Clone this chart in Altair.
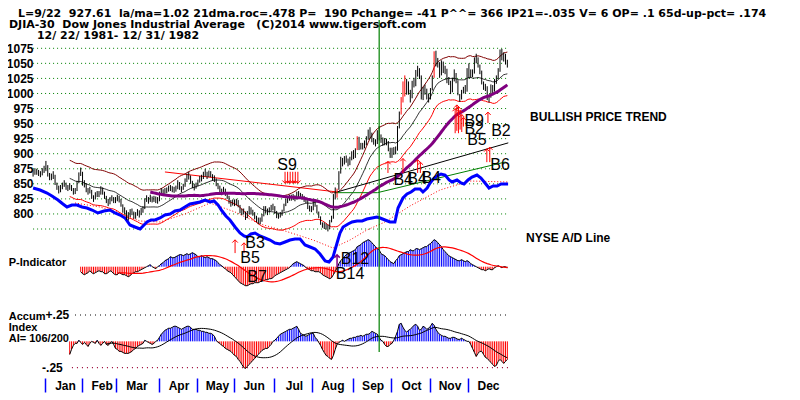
import json
import altair as alt
import numpy as np
import pandas as pd

FONT = "Liberation Sans"
HFONT = "DejaVu Sans"

# ---------------- DJIA daily bars, trading-day index 0 = 12/22/1981 ----------------
closes = [
    868.7, 871.3, 870.3, 868.3, 866.2, 872.0, 875.0,
    882.5, 865.3, 861.0, 861.8, 866.7, 850.5, 845.0, 838.9, 842.7, 847.6, 850.7, 844.8, 843.1, 846.4, 842.2, 837.6, 838.8, 852.7, 866.8, 871.1,
    851.0, 850.8, 839.8, 837.2, 840.2, 827.8, 826.1, 832.1, 833.2, 833.8, 842.9, 836.3, 828.1, 822.9, 818.5, 824.3, 826.9, 821.9, 824.4,
    827.4, 824.4, 816.0, 806.9, 805.7, 795.5, 798.0, 804.4, 803.9, 797.2, 798.7, 804.0, 799.0, 806.0, 809.0, 823.1, 826.9, 821.5, 828.4, 823.1, 826.0, 823.7, 822.8,
    833.2, 838.6, 835.5, 839.0, 839.6, 842.9, 843.0, 841.1, 840.0, 842.9, 852.0, 845.0, 840.9, 846.5, 855.0, 862.2, 863.1, 853.0, 848.7, 843.9, 848.4,
    853.2, 859.1, 859.5, 866.5, 869.2, 863.3, 868.9, 866.3, 858.9, 859.6, 849.6, 846.3, 838.2, 836.9, 840.6, 834.6, 829.0, 821.1, 816.7, 819.5,
    818.4, 820.7, 815.9, 805.6, 803.3, 804.5, 795.0, 801.0, 809.9, 803.3, 801.9, 796.1, 791.5, 788.6, 789.4, 796.7, 809.5, 805.8, 803.1, 808.1, 810.8, 811.9,
    804.0, 796.9, 797.2, 799.0, 803.8, 814.2, 821.6, 824.0, 828.1, 827.1, 828.7, 825.5, 833.4, 832.9, 829.7, 828.8, 825.3, 822.4, 811.3, 809.0, 808.6,
    822.0, 815.4, 803.6, 795.6, 784.3, 780.4, 779.9, 777.8, 776.9, 788.1, 792.4, 831.2, 829.4, 838.4, 869.3, 891.2, 884.9, 892.4, 892.1, 883.5, 892.0, 901.3,
    895.1, 906.8, 925.1, 910.3, 914.8, 912.3, 918.0, 925.3, 930.5, 932.9, 922.4, 920.2, 917.5, 934.8, 927.6, 924.1, 919.3, 920.9, 919.2, 907.1, 896.3,
    907.7, 903.6, 907.4, 944.3, 966.0, 986.9, 1012.8, 1003.7, 1018.4, 1004.5, 993.2, 1019.2, 1017.0, 1034.1, 1036.9, 1031.6, 995.1, 1006.1, 1005.9, 996.2, 991.7,
    1006.1, 1027.2, 1065.5, 1051.3, 1051.8, 1031.3, 1051.9, 1037.0, 1039.9, 1021.4, 1020.9, 1004.5, 1023.7, 1032.3, 1021.4, 1000.0, 991.0, 1002.4, 1007.4, 1005.2, 1039.3,
    1031.1, 1033.2, 1035.5, 1056.9, 1057.3, 1046.9, 1036.8, 1018.8, 1011.5, 1010.3, 992.6, 993.0, 1011.2, 1004.5, 1020.4, 1025.6, 1038.4, 1070.6, 1058.9, 1061.9, 1054.1, 1046.5,
]
highs = [
    874, 876, 875, 873, 871, 876, 880,
    888, 881, 868, 867, 871, 865, 852, 847, 848, 852, 856, 852, 848, 851, 848, 843, 843, 855, 869, 877,
    870, 856, 851, 843, 845, 840, 831, 836, 838, 838, 846, 844, 837, 830, 825, 828, 831, 828, 828,
    832, 830, 825, 816, 811, 806, 803, 808, 809, 804, 803, 808, 806, 810, 813, 826, 831, 828, 832, 829, 830, 829, 828,
    837, 843, 841, 843, 844, 847, 848, 846, 845, 847, 856, 853, 846, 850, 859, 867, 870, 864, 855, 850, 852,
    857, 863, 865, 870, 875, 870, 872, 871, 866, 864, 859, 851, 847, 842, 845, 842, 836, 830, 823, 824,
    824, 825, 823, 815, 809, 809, 804, 805, 813, 811, 807, 803, 797, 794, 794, 800, 813, 813, 809, 811, 815, 817,
    813, 805, 801, 803, 807, 817, 825, 828, 832, 832, 833, 831, 837, 838, 835, 833, 830, 827, 823, 814, 813,
    825, 823, 815, 804, 796, 786, 786, 784, 782, 790, 797, 833, 844, 842, 871, 895, 893, 896, 897, 892, 895, 904,
    906, 909, 929, 928, 918, 918, 922, 929, 940, 944, 935, 926, 924, 939, 946, 932, 927, 926, 925, 921, 910,
    910, 911, 912, 946, 970, 994, 1020, 1030, 1024, 1020, 1006, 1021, 1026, 1039, 1046, 1042, 1030, 1011, 1015, 1008, 1000,
    1009, 1030, 1070, 1071, 1059, 1052, 1055, 1053, 1046, 1041, 1027, 1021, 1026, 1040, 1034, 1022, 999, 1006, 1011, 1014, 1042,
    1050, 1040, 1040, 1060, 1066, 1060, 1048, 1038, 1020, 1016, 1012, 998, 1015, 1014, 1024, 1030, 1042, 1073, 1074, 1068, 1066, 1056,
]
lows = [
    862, 865, 865, 863, 861, 864, 868,
    871, 862, 856, 856, 858, 848, 840, 834, 836, 841, 845, 840, 838, 840, 838, 832, 833, 838, 851, 863,
    847, 844, 836, 832, 834, 825, 820, 824, 828, 828, 832, 832, 825, 818, 813, 816, 821, 818, 818,
    821, 819, 812, 802, 799, 790, 789, 795, 798, 792, 792, 797, 794, 798, 802, 808, 820, 817, 820, 819, 820, 818, 817,
    821, 830, 831, 833, 834, 837, 838, 836, 835, 837, 841, 840, 836, 840, 845, 853, 857, 850, 843, 839, 842,
    846, 852, 854, 858, 862, 858, 861, 861, 855, 853, 846, 841, 834, 831, 834, 830, 825, 817, 812, 814,
    813, 814, 811, 801, 798, 799, 790, 793, 799, 799, 797, 791, 786, 783, 783, 787, 796, 801, 798, 802, 805, 806,
    800, 793, 792, 794, 797, 804, 813, 818, 822, 822, 823, 821, 824, 828, 825, 824, 820, 818, 808, 804, 803,
    806, 812, 801, 793, 782, 777, 775, 774, 771, 775, 786, 792, 824, 827, 840, 867, 879, 882, 885, 879, 881, 889,
    891, 893, 906, 906, 907, 907, 909, 914, 923, 925, 919, 915, 912, 916, 922, 918, 913, 914, 914, 904, 893,
    893, 898, 899, 905, 942, 965, 985, 995, 998, 998, 985, 992, 1010, 1012, 1028, 1024, 990, 989, 998, 990, 985,
    990, 1005, 1026, 1045, 1043, 1026, 1030, 1034, 1032, 1017, 1014, 999, 1002, 1020, 1017, 997, 986, 990, 1000, 1000, 1003,
    1025, 1026, 1027, 1033, 1050, 1043, 1032, 1015, 1006, 1004, 989, 985, 993, 1000, 1003, 1016, 1024, 1036, 1055, 1053, 1048, 1043,
]
red_bar_days = [166, 177, 201, 202, 203, 219]

price_grid = [775, 800, 825, 850, 875, 900, 925, 950, 975, 1000, 1025, 1050, 1075]
price_labels = [800, 825, 850, 875, 900, 925, 950, 975, 1000, 1025, 1050, 1075]

month_names = ["Jan", "Feb", "Mar", "Apr", "May", "Jun", "Jul", "Aug", "Sep", "Oct", "Nov", "Dec"]
month_first_day = [7, 27, 46, 69, 90, 110, 132, 153, 175, 196, 217, 238]

# ---------------- NYSE A/D line (relative units) ----------------
ad_days = [0, 3.8, 7.6, 10.3, 13.6, 16.3, 18.5, 21.2, 24, 26.7, 29.4, 32.2, 35.4, 38.7, 42, 44.7, 47.5, 50.2,
           52.9, 55.6, 58.4, 60.6, 62.2, 64.4, 66.6, 69.3, 72, 74.8, 77.5, 80.2, 82.9, 85.7, 88.4, 91.1, 93.9,
           96.6, 98.8, 101, 103.2, 105.3, 107.5, 110.3, 113, 115.2, 116.8, 119, 121.2, 123.9, 126.6, 129.4,
           132.1, 134.8, 137.6, 140.3, 143, 145.8, 148.5, 151.3, 154, 156.7, 159.5, 161.6, 163.8, 166, 167.6,
           169.3, 172, 174.2, 176.9, 179.7, 182.3, 185.1, 187.8, 189.5, 192.2, 194.9, 197.6, 199.3, 202, 204.2,
           206.4, 208.6, 211.3, 212.9, 215.2, 216.8, 219, 220.6, 222.8, 225, 227.2, 228.8, 231.5, 233.7, 235.3,
           237.5, 239.7, 242.4, 244.6, 246.8, 249, 251.2, 253.4, 255.6, 257.7, 259.4]
ad_values = [82, 80, 77, 74, 70, 66, 63, 65, 65, 63, 62, 60, 57, 59, 60, 57, 55, 52,
             45, 43, 41, 45, 48, 50, 50, 52, 55, 56, 59, 60, 63, 66, 67, 68, 70,
             68, 69, 65, 59, 54, 50, 43, 37, 34, 33, 36, 37, 34, 32, 30,
             27, 26, 28, 30, 31, 31, 25, 23, 21, 16, 9, 8, 13, 27, 37,
             43, 46, 48, 49, 49, 51, 52, 53, 52, 50, 48, 48, 62, 72, 76,
             78, 81, 81, 78, 82, 87, 92, 94, 96, 95, 90, 88, 90, 87, 86,
             90, 93, 95, 92, 87, 82, 84, 84, 86, 86, 86]
ad_ma_days = [22.9, 36.5, 47.5, 58.4, 69.3, 82.9, 96.6, 110.3, 123.9, 137.6, 152.9, 163.8, 173.1, 182.3,
              192.2, 205.8, 222.2, 238.6, 259.4]
ad_ma_values = [67, 63, 57, 49, 48, 56, 67, 58, 46, 39, 30, 22, 30, 40, 48, 64, 80, 89, 88]

# ---------------- P-Indicator (relative units), from day 26 ----------------
p_start = 26
p_indicator = [
    -5, -7, -8, -7, -6, -4, -6, -7, -6, -5,
    -4, -5, -5, -7, -7, -6, -4, -5, -7, -8,
    -8, -6, -7, -8, -8, -9, -10, -9, -7, -6,
    -5, -5, -4, -3, -2, -1, 0, 1, 2, 0,
    -1, -2, 0, 1, 3, 4, 6, 7, 8, 10,
    9, 9, 10, 11, 12, 12, 11, 12, 13, 12,
    13, 14, 13, 12, 10, 10, 11, 10, 9, 10,
    9, 8, 8, 7, 6, 4, 2, 1, -1, -2,
    -4, -5, -6, -8, -10, -12, -14, -16, -17, -18,
    -19, -19, -18, -17, -17, -16, -16, -16, -15, -14,
    -14, -13, -13, -12, -12, -11, -9, -8, -7, -6,
    -5, -4, -3, -2, -1, 1, 3, 4, 5, 4,
    3, 2, 1, -1, -2, -3, -4, -4, -5, -5,
    -5, -6, -8, -9, -10, -11, -12, -11, -8, -5,
    -1, 3, 6, 8, 10, 12, 13, 14, 15, 16,
    17, 20, 21, 22, 24, 25, 26, 27, 26, 24,
    22, 20, 18, 17, 13, 12, 11, 9, 7, 5,
    4, 3, 6, 8, 11, 12, 13, 14, 15, 15,
    17, 16, 16, 18, 18, 17, 18, 19, 20, 20,
    22, 23, 25, 27, 26, 24, 22, 20, 17, 15,
    13, 11, 10, 9, 8, 7, 6, 6, 7, 6,
    5, 6, 5, 3, 2, 1, 0, -1, -2, -3,
    -3, -4, -3, -2, -3, -3, -1, 0, 1, 0,
    -1, 0, 0, -1,
]

# ---------------- Accumulation Index (thousandths), from day 20 ----------------
ai_start = 20
accum_index_milli = [
    -124, -76, -38, -19, -19, 10, -10, -29, -10, -29,
    -48, -19, 0, -10, -19, 10, -19, -38, -19, 0,
    -29, -38, -19, 0, -29, -67, -76, -95, -95, -105,
    -114, -114, -114, -105, -95, -76, -67, -48, -38, -29,
    -19, 10, 0, -10, -19, -29, -19, 0, 10, 38,
    67, 86, 105, 114, 124, 124, 133, 143, 143, 133,
    124, 114, 124, 133, 143, 143, 133, 114, 114, 114,
    105, 105, 95, 95, 86, 86, 76, 76, 67, 48,
    10, -10, -19, -38, -48, -67, -76, -86, -95, -114,
    -133, -143, -171, -190, -219, -247, -257, -238, -219, -200,
    -181, -162, -143, -124, -105, -86, -76, -67, -67, -48,
    -29, 0, 10, 29, 48, 67, 76, 86, 95, 105,
    114, 114, 124, 133, 143, 114, 76, 67, 57, 48,
    57, 67, 76, 76, 38, 19, -10, -38, -76, -105,
    -133, -143, -162, -171, -133, -76, -29, -10, 0, 10,
    0, 10, 19, 29, 29, 38, 38, 48, 48, 57,
    48, 57, 67, 67, 76, 95, 86, 76, 67, 38,
    10, 0, -29, -48, -48, -29, -19, 10, 48, 95,
    162, 171, 133, 105, 86, 105, 114, 133, 152, 162,
    143, 105, 114, 143, 133, 114, 124, 143, 171, 152,
    114, 86, 67, 57, 48, 48, 38, 29, 29, 38,
    38, 29, 19, 19, 29, 19, 10, 0, 0, -29,
    -67, -105, -143, -114, -95, -95, -124, -152, -162, -181,
    -200, -219, -238, -228, -190, -171, -190, -209, -190, -171,
]

# ---------------- trend lines ----------------
red_trend_days, red_trend_prices = [72, 166], [869.7, 836.5]
black_trend_days, black_trend_prices = [166, 259.5], [836.5, 918.0]
green_trend_days, green_trend_prices = [165, 188, 258], [835.3, 835.3, 886.3]
last_day_marker = 189  # 9/22
marker_span = [571, 1122]

# ---------------- signals ----------------
up_arrow_days = [110.3, 115.2, 193.8, 202, 210, 211.5, 230.5, 231.4, 232.3, 233.2, 234.1, 235, 248.4, 247.8, 249.4]
up_arrow_base = [735, 735, 868, 868, 868, 868, 934, 938, 934, 940, 936, 945, 951, 886, 886]
up_arrow_tip = [757, 752, 887, 892, 890, 886, 975, 981, 978, 972, 965, 960, 969, 908, 911]
down_arrow_days = [137.6, 139.0, 140.4, 141.8, 143.2, 144.6]
down_arrow_top = [870, 870, 870, 870, 870, 870]
down_arrow_tip = [851, 851, 851, 851, 851, 851]
purple_arrow_days, purple_arrow_base, purple_arrow_tip = [166], [711], [732]

signal_labels = ["S9", "B3", "B5", "B7", "B12", "B14", "B4", "B4", "B4", "B9", "B2", "B5", "B2", "B6"]
signal_days = [138.7, 121.2, 118.5, 122.3, 175.8, 173.1, 202.1, 209.7, 217.4, 240.9, 240.9, 242.4, 255.5, 255.0]
signal_prices = [881.3, 751.8, 726.9, 695.4, 724.8, 700.3, 856.4, 858.0, 859.7, 954.2, 941.0, 922.8, 937.7, 881.3]

NB = "\u00a0"
header_texts = [
    "L=9/22" + NB * 2 + "927.61" + NB * 2 + "la/ma=1.02 21dma.roc=.478 P=" + NB * 2
    + "190 Pchange= -41 P^^= 366 IP21=-.035 V= 6 OP= .1 65d-up-pct= .174",
    "DJIA-30" + NB * 2 + "Dow Jones Industrial Average" + NB * 3 + "(C)2014 www.tigersoft.com",
    "12/ 22/ 1981- 12/ 31/ 1982",
]
header_days = [-8.25, -13.2, 2.1]
header_prices = [1131.9, 1113.6, 1094.6]

side_texts = ["BULLISH PRICE TREND", "NYSE A/D Line"]
side_days = [271.4, 269.2]
side_prices = [961, 760]

left_texts = ["P-Indicator", "Accum", "Index", "AI= 106/200"]
left_days = [-13.3, -13.3, -13.3, -13.3]
left_prices = [718.6, 629.0, 610.7, 592.5]

ai_band_texts = ["+.25", "-.25"]
ai_band_text_days = [6.8, 4.9]
ai_band_levels = [0.25, -0.25]
ai_band_start = [22.9, 21.2]
ai_band_colors = ["#000000", "#990033"]

# ---------------- frames ----------------
n = len(closes)
days = list(range(n))
bars = pd.DataFrame({"day": days, "close": closes, "high": highs, "low": lows})
bars["col"] = np.where(bars["day"].isin(red_bar_days), "#ff0000", "#000000")

cs = pd.Series(closes)
ma21 = cs.rolling(21).mean()
ma_df = pd.DataFrame({"day": days, "ma21": ma21, "upper": ma21 * 1.035, "lower": ma21 * 0.965}).dropna()
ma65_df = pd.DataFrame({"day": days, "ma65": cs.rolling(65).mean()}).dropna()

grid_df = pd.DataFrame({"level": price_grid, "x0": 0, "x1": n - 1})

ad_df = pd.DataFrame({"day": ad_days, "ad": ad_values})
adma_df = pd.DataFrame({"day": ad_ma_days, "adma": ad_ma_values})

p_df = pd.DataFrame({"day": list(range(p_start, p_start + len(p_indicator))), "p": p_indicator})
p_df["zero"] = 0
p_df["col"] = np.where(p_df["p"] >= 0, "#0000ff", "#ff0000")
p_df["pma"] = p_df["p"].rolling(21).mean()

ai_vals = [v / 1000 for v in accum_index_milli]
ai_df = pd.DataFrame({"day": list(range(ai_start, ai_start + len(ai_vals))), "ai": ai_vals})
ai_df["zero"] = 0.0
ai_df["col"] = np.where(ai_df["ai"] >= 0, "#0000ff", "#ff0000")
ai_df["aima"] = ai_df["ai"].rolling(21).mean()

aiband_df = pd.DataFrame({"level": ai_band_levels, "x0": ai_band_start, "x1": n - 0.6,
                          "col": ai_band_colors, "txt": ai_band_texts, "tday": ai_band_text_days})

# ---------------- scales / axes ----------------
XS = alt.Scale(domain=[-0.05, 414.45], nice=False, zero=False)
PS = alt.Scale(domain=[775, 1075], range=[221.0, 40.3], nice=False, zero=False)
ADS = alt.Scale(domain=[0, 100], range=[262, 162], nice=False, zero=False)
PIS = alt.Scale(domain=[-30, 30], range=[288.7, 228.7], nice=False, zero=False)
AIS = alt.Scale(domain=[-0.25, 0.25], range=[359.7, 307.0], nice=False, zero=False)

sep_vals = [d - 0.5 for d in month_first_day]
label_expr = "%s[indexof(%s, datum.value)]" % (json.dumps(month_names), json.dumps(sep_vals))
XAX = alt.Axis(values=sep_vals, labelExpr=label_expr, domain=False, grid=False, ticks=True,
               tickColor="#0000ff", tickWidth=1.5, tickSize=14, labelFont=FONT, labelFontSize=12,
               labelFontWeight="bold", labelColor="black", labelOffset=20, labelPadding=-7,
               labelBaseline="middle", labelAlign="center", labelOverlap=False, labelFlush=False, title=None)
YAX = alt.Axis(values=price_labels, format="d", orient="left", domain=False, ticks=False, grid=False,
               labelFont=FONT, labelFontSize=12, labelFontWeight="bold", labelColor="black",
               labelPadding=0, title=None)


def X(f):
    return alt.X(f, type="quantitative", scale=XS, axis=XAX)


def Y(f, s, axis=None):
    return alt.Y(f, type="quantitative", scale=s, axis=axis)


layers = []
layers.append(alt.Chart(grid_df).mark_rule(color="#008000", strokeDash=[1, 3], strokeWidth=1).encode(
    x=X("x0"), x2="x1:Q", y=Y("level", PS, YAX)))
layers.append(alt.Chart(aiband_df).mark_rule(strokeDash=[1, 4], strokeWidth=1.2).encode(
    x=X("x0"), x2="x1:Q", y=Y("level", AIS), color=alt.Color("col:N", scale=None)))
layers.append(alt.Chart(pd.DataFrame({"day": red_trend_days, "v": red_trend_prices})).mark_line(
    color="#ff0000", strokeWidth=1).encode(x=X("day"), y=Y("v", PS)))
layers.append(alt.Chart(ma_df).mark_line(color="#800000", strokeWidth=1).encode(x=X("day"), y=Y("upper", PS)))
layers.append(alt.Chart(ma_df).mark_line(color="#ff0000", strokeWidth=1).encode(x=X("day"), y=Y("lower", PS)))
layers.append(alt.Chart(ma_df).mark_line(color="#000000", strokeWidth=0.8).encode(x=X("day"), y=Y("ma21", PS)))
layers.append(alt.Chart(pd.DataFrame({"day": black_trend_days, "v": black_trend_prices})).mark_line(
    color="#000000", strokeWidth=1).encode(x=X("day"), y=Y("v", PS)))
layers.append(alt.Chart(pd.DataFrame({"day": green_trend_days, "v": green_trend_prices})).mark_line(
    color="#008000", strokeWidth=1).encode(x=X("day"), y=Y("v", PS)))
layers.append(alt.Chart(adma_df).mark_line(color="#ff0000", strokeWidth=1, strokeDash=[1, 2]).encode(
    x=X("day"), y=Y("adma", ADS)))
layers.append(alt.Chart(ad_df).mark_line(color="#0000ff", strokeWidth=3).encode(x=X("day"), y=Y("ad", ADS)))
layers.append(alt.Chart(bars).mark_rule(strokeWidth=1).encode(
    x=X("day"), y=Y("low", PS), y2="high:Q", color=alt.Color("col:N", scale=None)))
layers.append(alt.Chart(ma65_df).mark_line(color="#800080", strokeWidth=3).encode(x=X("day"), y=Y("ma65", PS)))
layers.append(alt.Chart(p_df).mark_rule(strokeWidth=1).encode(
    x=X("day"), y=Y("zero", PIS), y2="p:Q", color=alt.Color("col:N", scale=None)))
layers.append(alt.Chart(p_df).mark_line(color="#000000", strokeWidth=1).encode(x=X("day"), y=Y("p", PIS)))
layers.append(alt.Chart(p_df.dropna()).mark_line(color="#ff0000", strokeWidth=1.2).encode(x=X("day"), y=Y("pma", PIS)))
layers.append(alt.Chart(ai_df).mark_rule(strokeWidth=1).encode(
    x=X("day"), y=Y("zero", AIS), y2="ai:Q", color=alt.Color("col:N", scale=None)))
layers.append(alt.Chart(ai_df).mark_line(color="#000000", strokeWidth=1).encode(x=X("day"), y=Y("ai", AIS)))
layers.append(alt.Chart(ai_df.dropna()).mark_line(color="#000000", strokeWidth=1).encode(x=X("day"), y=Y("aima", AIS)))
layers.append(alt.Chart(pd.DataFrame({"day": [last_day_marker], "a": [marker_span[0]], "b": [marker_span[1]]}))
              .mark_rule(color="#008000", strokeWidth=1.2).encode(x=X("day"), y=Y("a", PS), y2="b:Q"))
up_df = pd.DataFrame({"day": up_arrow_days, "a": up_arrow_base, "b": up_arrow_tip})
layers.append(alt.Chart(up_df).mark_rule(color="#ff0000", strokeWidth=1).encode(x=X("day"), y=Y("a", PS), y2="b:Q"))
layers.append(alt.Chart(up_df).mark_point(shape="M-1,1L0,0L1,1", filled=False, color="#ff0000", size=30,
                                          strokeWidth=1, opacity=1).encode(x=X("day"), y=Y("b", PS)))
dn_df = pd.DataFrame({"day": down_arrow_days, "a": down_arrow_top, "b": down_arrow_tip})
layers.append(alt.Chart(dn_df).mark_rule(color="#ff0000", strokeWidth=1).encode(x=X("day"), y=Y("a", PS), y2="b:Q"))
layers.append(alt.Chart(dn_df).mark_point(shape="M-1,-1L0,0L1,-1", filled=False, color="#ff0000", size=30,
                                          strokeWidth=1, opacity=1).encode(x=X("day"), y=Y("b", PS)))
pu_df = pd.DataFrame({"day": purple_arrow_days, "a": purple_arrow_base, "b": purple_arrow_tip})
layers.append(alt.Chart(pu_df).mark_rule(color="#800080", strokeWidth=1.5).encode(x=X("day"), y=Y("a", PS), y2="b:Q"))
layers.append(alt.Chart(pu_df).mark_point(shape="M-1,1L0,0L1,1", filled=False, color="#800080", size=30,
                                          strokeWidth=1.5, opacity=1).encode(x=X("day"), y=Y("b", PS)))
layers.append(alt.Chart(pd.DataFrame({"day": signal_days, "v": signal_prices, "t": signal_labels})).mark_text(
    font=FONT, fontSize=16, color="black", align="center", baseline="middle").encode(
    x=X("day"), y=Y("v", PS), text="t:N"))
layers.append(alt.Chart(pd.DataFrame({"day": header_days, "v": header_prices, "t": header_texts})).mark_text(
    font=HFONT, fontSize=11, fontWeight="bold", color="black", align="left", baseline="middle").encode(
    x=X("day"), y=Y("v", PS), text="t:N"))
layers.append(alt.Chart(pd.DataFrame({"day": side_days, "v": side_prices, "t": side_texts})).mark_text(
    font=FONT, fontSize=12, fontWeight="bold", color="black", align="left", baseline="middle").encode(
    x=X("day"), y=Y("v", PS), text="t:N"))
layers.append(alt.Chart(pd.DataFrame({"day": left_days, "v": left_prices, "t": left_texts})).mark_text(
    font=FONT, fontSize=11, fontWeight="bold", color="black", align="left", baseline="middle").encode(
    x=X("day"), y=Y("v", PS), text="t:N"))
layers.append(alt.Chart(aiband_df).mark_text(
    font=FONT, fontSize=12, fontWeight="bold", color="black", align="left", baseline="middle").encode(
    x=X("tday"), y=Y("level", AIS), text="txt:N"))

chart = (
    alt.layer(*layers)
    .resolve_scale(y="independent")
    .properties(width=759, height=370, padding={"left": 25, "top": 0, "right": 0, "bottom": 22},
                autosize=alt.AutoSizeParams(type="none"), background="white")
    .configure_view(stroke=None)
)
chart.save("out.html", embed_options={"renderer": "svg", "actions": False})
